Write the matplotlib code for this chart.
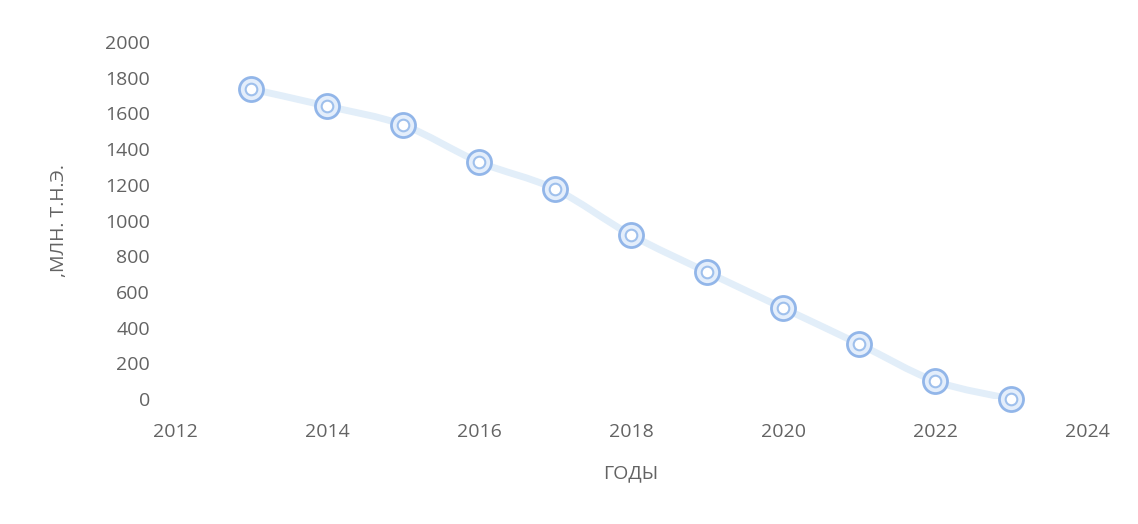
import matplotlib.pyplot as plt
from matplotlib.path import Path
from matplotlib.patches import PathPatch
import numpy as np

years = [2013, 2014, 2015, 2016, 2017, 2018, 2019, 2020, 2021, 2022, 2023]
values = [1737, 1641, 1535, 1328, 1176, 919, 711, 510, 308, 101, 0]

x_ticks = [2012, 2014, 2016, 2018, 2020, 2022, 2024]
y_ticks = [0, 200, 400, 600, 800, 1000, 1200, 1400, 1600, 1800, 2000]

plt.rcParams['font.family'] = ['Open Sans', 'DejaVu Sans']
grey = '#636363'

fig = plt.figure(figsize=(11.38, 5.24), dpi=100)
ax = fig.add_axes([175 / 1138, 1 - 399 / 524, 912 / 1138, 357 / 524])

# сглаженная линия (кривые Безье, как в Excel)
xs = np.array(years, dtype=float)
ys = np.array(values, dtype=float)
verts = [(xs[0], ys[0])]
codes = [Path.MOVETO]
for i in range(len(xs) - 1):
    p0 = (xs[max(i - 1, 0)], ys[max(i - 1, 0)])
    p1 = (xs[i], ys[i])
    p2 = (xs[i + 1], ys[i + 1])
    p3 = (xs[min(i + 2, len(xs) - 1)], ys[min(i + 2, len(xs) - 1)])
    c1 = (p1[0] + (p2[0] - p0[0]) / 6, p1[1] + (p2[1] - p0[1]) / 6)
    c2 = (p2[0] - (p3[0] - p1[0]) / 6, p2[1] - (p3[1] - p1[1]) / 6)
    verts += [c1, c2, p2]
    codes += [Path.CURVE4] * 3
ax.add_patch(PathPatch(Path(verts, codes), facecolor='none',
                       edgecolor='#e2eef9', lw=5, capstyle='round', zorder=1))

# маркеры: двойное кольцо
ax.scatter(years, values, s=300, facecolor='#e4eefb', edgecolor='#92b6e9', linewidths=2.0, zorder=3)
ax.scatter(years, values, s=70, facecolor='white', edgecolor='#9fc0ec', linewidths=1.5, zorder=4)

ax.set_xlim(2012, 2024)
ax.set_ylim(0, 2000)
ax.set_xticks(x_ticks)
ax.set_yticks(y_ticks)
for s in ax.spines.values():
    s.set_visible(False)
ax.tick_params(length=0, colors=grey, labelsize=14)
ax.tick_params(axis='x', pad=17)
ax.tick_params(axis='y', pad=18)
ax.set_xlabel('ГОДЫ', color=grey, fontsize=14, labelpad=17)
ax.set_ylabel(',МЛН. Т.Н.Э.', color=grey, fontsize=14, labelpad=27)
for c in ax.collections:
    c.set_clip_on(False)

fig.savefig('out.png', dpi=100, facecolor='white')
